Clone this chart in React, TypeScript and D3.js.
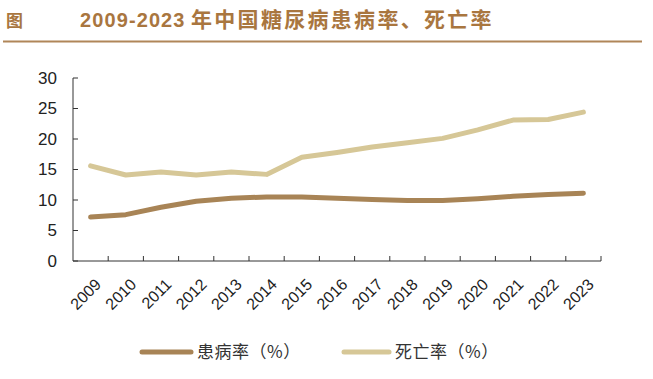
import React from "react";
import * as d3 from "d3";

const years = ["2009","2010","2011","2012","2013","2014","2015","2016","2017","2018","2019","2020","2021","2022","2023"];
const prevalence = [7.2, 7.6, 8.8, 9.8, 10.3, 10.5, 10.5, 10.3, 10.1, 9.9, 9.9, 10.2, 10.6, 10.9, 11.1];
const mortality = [15.6, 14.1, 14.6, 14.1, 14.6, 14.2, 17.0, 17.8, 18.7, 19.4, 20.1, 21.5, 23.1, 23.2, 24.4];
const yTicks = [0, 5, 10, 15, 20, 25, 30];
const titleYears = "2009-2023";
const titleText = "年中国糖尿病患病率、死亡率";
const seriesNames = ["患病率（%）", "死亡率（%）"];

const W = 653, H = 379;
const darkColor = "#a88456";
const lightColor = "#d6c797";

export default function App() {
  const x = d3.scaleBand<string>().domain(years).range([73, 601]);
  const y = d3.scaleLinear().domain([0, 30]).range([261, 78]);
  const line = d3.line<number>()
    .x((_, i) => (x(years[i]) as number) + x.bandwidth() / 2)
    .y((d) => y(d));
  const font = "'Liberation Sans', Arial, sans-serif";
  const cjk = "'Noto Sans CJK SC', sans-serif";
  return (
    <svg width={W} height={H} style={{ position: "absolute", left: 0, top: 0, background: "#fff" }}>
      <text x={6} y={27} fontSize={17} fontWeight="bold" fill="#a9763f" fontFamily={cjk}>图</text>
      <text x={80} y={27} fontSize={20} fontWeight="bold" fill="#a9763f" fontFamily={font} letterSpacing={1.1}>{titleYears}</text>
      <text x={191} y={27} fontSize={21} fontWeight="bold" fill="#a9763f" fontFamily={cjk} letterSpacing={2.3}>{titleText}</text>
      <line x1={3} x2={642} y1={41.5} y2={41.5} stroke="#b08659" strokeWidth={2} />
      {/* y axis */}
      <line x1={73} x2={73} y1={78} y2={261} stroke="#333" strokeWidth={1} />
      {yTicks.map((t) => (
        <g key={t}>
          <line x1={73} x2={78} y1={y(t)} y2={y(t)} stroke="#333" />
          <text x={57} y={y(t)} dy="0.35em" textAnchor="end" fontSize={17} fill="#222" fontFamily={font}>{t}</text>
        </g>
      ))}
      {/* x axis */}
      <line x1={73} x2={601} y1={261} y2={261} stroke="#333" />
      {years.map((yr) => {
        const bx = (x(yr) as number) + x.bandwidth();
        const cx = (x(yr) as number) + x.bandwidth() / 2;
        return (
          <g key={yr}>
            <line x1={bx} x2={bx} y1={261} y2={256} stroke="#333" />
            <text transform={`translate(${cx + 3},${277}) rotate(-45)`} textAnchor="end" dy="0.75em" fontSize={16} fill="#222" fontFamily={font}>{yr}</text>
          </g>
        );
      })}
      <path d={line(mortality) || ""} fill="none" stroke={lightColor} strokeWidth={5} strokeLinecap="round" strokeLinejoin="round" />
      <path d={line(prevalence) || ""} fill="none" stroke={darkColor} strokeWidth={5} strokeLinecap="round" strokeLinejoin="round" />
      {/* legend */}
      <line x1={142} x2={191} y1={352} y2={352} stroke={darkColor} strokeWidth={5} strokeLinecap="round" />
      <text x={197} y={358} fontSize={17} fill="#333" fontFamily={cjk} letterSpacing={0.5}>{seriesNames[0]}</text>
      <line x1={344} x2={389} y1={352} y2={352} stroke={lightColor} strokeWidth={5} strokeLinecap="round" />
      <text x={395} y={358} fontSize={17} fill="#333" fontFamily={cjk} letterSpacing={0.5}>{seriesNames[1]}</text>
    </svg>
  );
}
